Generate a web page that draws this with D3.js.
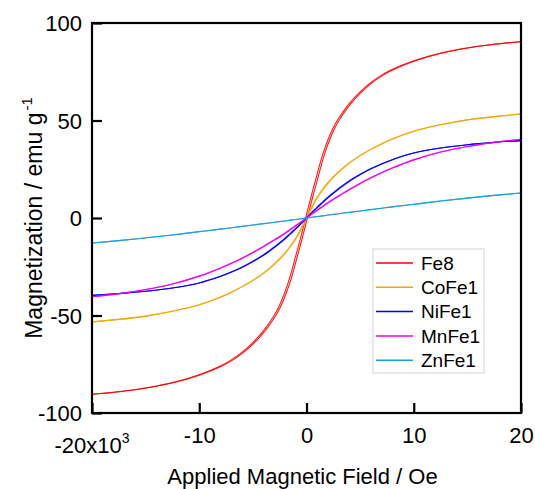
<!DOCTYPE html>
<html><head><meta charset="utf-8">
<script src="https://cdn.jsdelivr.net/npm/d3@7"></script>
<style>body{margin:0;background:#fff}svg{display:block}text{font-family:"Liberation Sans",Arial,sans-serif;fill:#000}</style>
</head><body><svg id="c" width="535" height="489"></svg>
<script>
// Applied field (x10^3 Oe)
const field = [-20,-17.5,-15,-12.5,-10,-8,-7,-6,-5,-4,-3,-2.5,-2,-1.5,-1,-0.5,0,0.5,1,1.5,2,2.5,3,4,5,6,7,8,10,12.5,15,17.5,20];
const seriesNames = ["Fe8","CoFe1","NiFe1","MnFe1","ZnFe1"];
const colors = ["#ff0000","#f5a500","#0000ff","#ee00ee","#1a9fe5"];
// coercive field (x10^3 Oe)
const coercivity = [0.08,0.04,0.04,0.04,0.02];
const fe8   = [-90.4,-89.1,-87.2,-84.5,-80.5,-76,-73,-69.2,-64.3,-58.3,-50.5,-45.5,-39,-31,-21,-10.8,0,10.8,21,31,39,45.5,50.5,58.3,64.3,69.2,73,76,80.5,84.5,87.2,89.1,90.4];
const cofe1 = [-53.3,-52,-50.3,-47.8,-44.5,-40.5,-38,-35.2,-32,-28.3,-23.7,-21,-18,-14.5,-10.5,-5.5,0,5.5,10.5,14.5,18,21,23.7,28.3,32,35.2,38,40.5,44.5,47.8,50.3,52,53.3];
const nife1 = [-39.7,-38.8,-37.6,-35.9,-33.3,-29.9,-27.7,-25.2,-22.3,-19,-15,-12.8,-10.5,-8,-5.5,-2.8,0,2.8,5.5,8,10.5,12.8,15,19,22.3,25.2,27.7,29.9,33.3,35.9,37.6,38.8,39.7];
const mnfe1 = [-40.4,-38.8,-36.7,-33.8,-29.8,-25.6,-23.2,-20.6,-17.7,-14.6,-11.3,-9.6,-7.8,-5.9,-4,-2,0,2,4,5.9,7.8,9.6,11.3,14.6,17.7,20.6,23.2,25.6,29.8,33.8,36.7,38.8,40.4];
const znfe1 = [-12.8,-11.6,-10.2,-8.7,-7,-5.7,-5,-4.3,-3.6,-2.9,-2.2,-1.85,-1.5,-1.1,-0.75,-0.4,0,0.4,0.75,1.1,1.5,1.85,2.2,2.9,3.6,4.3,5,5.7,7,8.7,10.2,11.6,12.8];
const values = [fe8,cofe1,nife1,mnfe1,znfe1];
const xTicks = [-20,-10,0,10,20];
const yTicks = [-100,-50,0,50,100];

const svg = d3.select("#c");
const L=92,R=521,T=23,B=413;
const x = d3.scaleLinear().domain([-20,20]).range([L,R]);
const y = d3.scaleLinear().domain([-100,100]).range([B,T]);

svg.append("clipPath").attr("id","pc").append("rect").attr("x",L).attr("y",T).attr("width",R-L).attr("height",B-T);
const g = svg.append("g").attr("clip-path","url(#pc)");
const line = d3.line().x(d=>x(d[0])).y(d=>y(d[1])).curve(d3.curveCatmullRom.alpha(0.5));
values.forEach((v,i)=>{
  [-1,1].forEach(s=>{
    const pts = field.map((f,j)=>[f + s*coercivity[i], v[j]]);
    g.append("path").attr("d",line(pts)).attr("fill","none").attr("stroke",colors[i]).attr("stroke-width",1.1).attr("opacity",0.9);
  });
});

// frame
svg.append("rect").attr("x",L).attr("y",T).attr("width",R-L).attr("height",B-T).attr("fill","none").attr("stroke","#000").attr("stroke-width",2.2);

// y axis
const ya = svg.append("g").attr("transform",`translate(${L},0)`).call(d3.axisLeft(y).tickValues(yTicks).tickSize(-10).tickPadding(10).tickFormat(d=>String(d)));
ya.select(".domain").remove();
ya.selectAll(".tick line").attr("stroke","#000").attr("stroke-width",2.2);
ya.selectAll(".tick text").attr("font-size",22).attr("font-family","Liberation Sans, Arial, sans-serif").attr("fill","#000").attr("dy","0.35em");

// x axis
const xa = svg.append("g").attr("transform",`translate(0,${B})`).call(d3.axisBottom(x).tickValues(xTicks).tickSize(-10).tickPadding(14).tickFormat(d=> d===-20 ? "" : String(d)));
xa.select(".domain").remove();
xa.selectAll(".tick line").attr("stroke","#000").attr("stroke-width",2.2);
xa.selectAll(".tick text").attr("font-size",22).attr("font-family","Liberation Sans, Arial, sans-serif").attr("fill","#000").attr("dy","0.71em");
const lab = svg.append("text").attr("x",x(-20)).attr("y",453).attr("text-anchor","middle").attr("font-size",22);
lab.append("tspan").text("-20x10");
lab.append("tspan").attr("font-size",14).attr("dy",-10).text("3");

// axis titles
svg.append("text").attr("x",(L+R)/2 -4).attr("y",484).attr("text-anchor","middle").attr("font-size",22).text("Applied Magnetic Field / Oe");
const yt = svg.append("text").attr("transform",`translate(42,${(T+B)/2}) rotate(-90)`).attr("text-anchor","middle").attr("font-size",23);
yt.append("tspan").text("Magnetization / emu g");
yt.append("tspan").attr("font-size",15).attr("dx",2).attr("dy",-10).text("-1");

// legend
const lg = svg.append("g");
lg.append("rect").attr("x",373).attr("y",249).attr("width",111).attr("height",124).attr("fill","#fff").attr("stroke","#d4d4d4").attr("stroke-width",1);
seriesNames.forEach((n,i)=>{
  const yy = 263 + i*24.3;
  lg.append("line").attr("x1",376).attr("x2",413).attr("y1",yy).attr("y2",yy).attr("stroke",colors[i]).attr("stroke-width",1.5);
  lg.append("text").attr("x",421).attr("y",yy).attr("dy","0.35em").attr("font-size",19).text(n);
});
</script></body></html>
